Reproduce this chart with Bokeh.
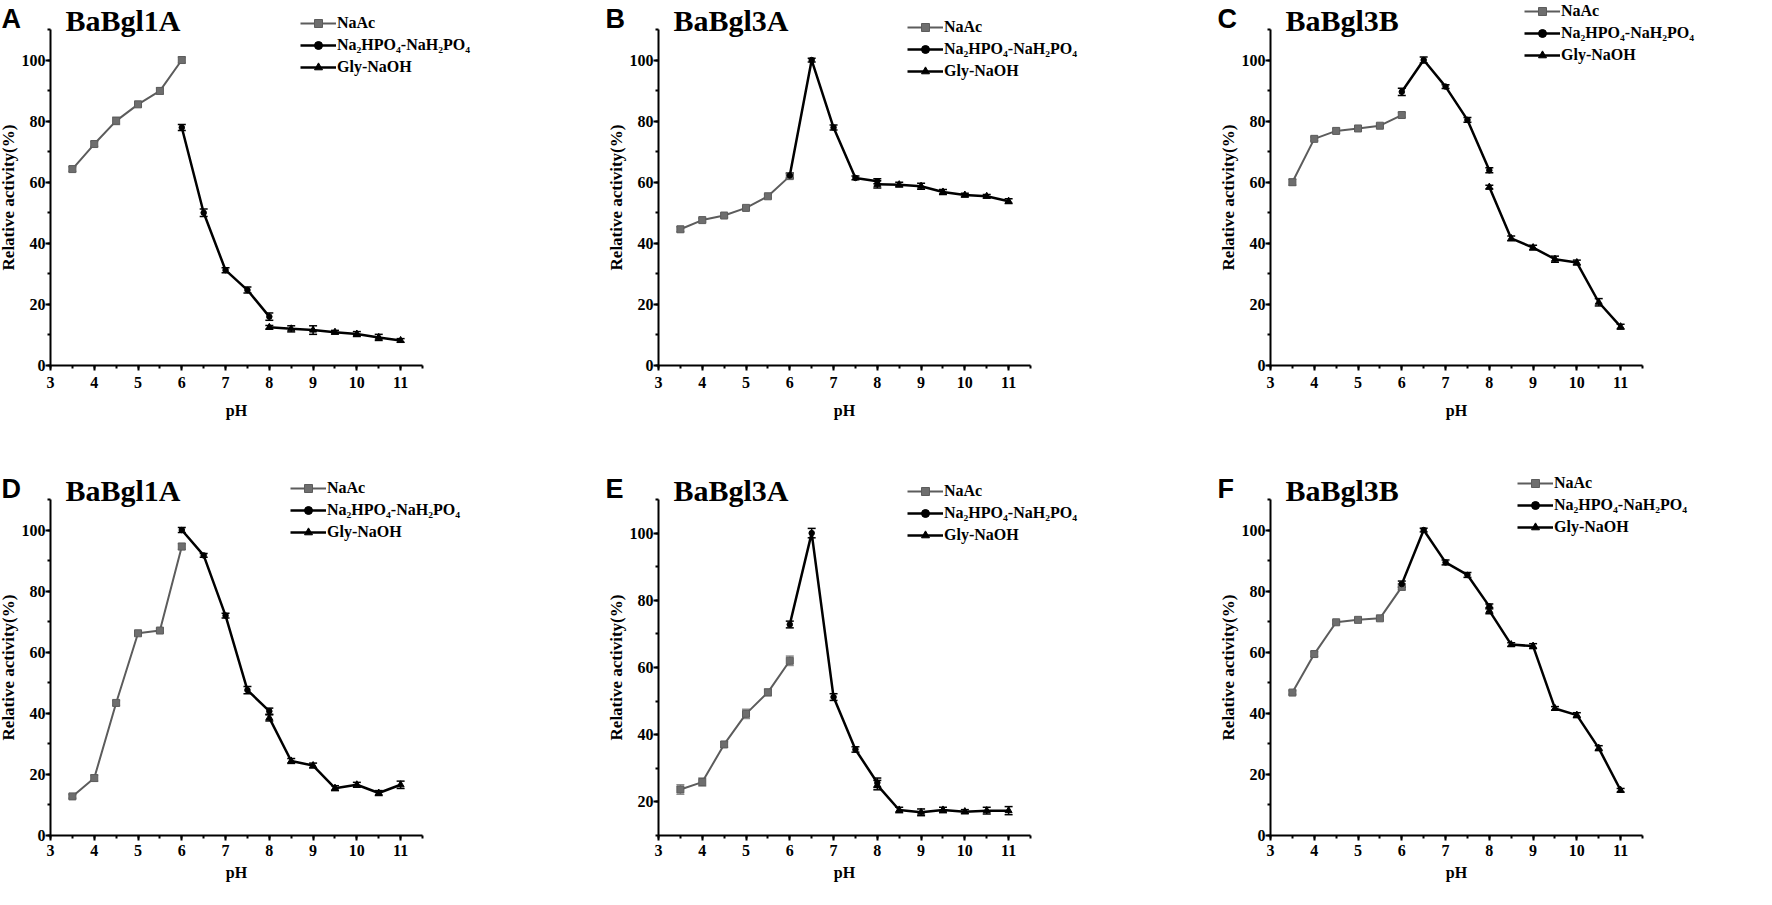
from bokeh.plotting import figure
from bokeh.layouts import row, column
from bokeh.models import (ColumnDataSource, Label, Legend, LegendItem, Range1d,
                          SingleIntervalTicker, TeeHead, Whisker)
from bokeh.embed import file_html
from bokeh.resources import INLINE

# pH values used with each buffer
ph_naac = [3.5, 4, 4.5, 5, 5.5, 6]
ph_phos = [6, 6.5, 7, 7.5, 8]
ph_gly = [8, 8.5, 9, 9.5, 10, 10.5, 11]

buffers = ["NaAc", "Na\u2082HPO\u2084-NaH\u2082PO\u2084", "Gly-NaOH"]
letters = ["A", "B", "C", "D", "E", "F"]
titles = ["BaBgl1A", "BaBgl3A", "BaBgl3B", "BaBgl1A", "BaBgl3A", "BaBgl3B"]

# relative activity (%) per panel: NaAc, phosphate, glycine
a_naac = [64.3, 72.5, 80.1, 85.5, 89.9, 100.0]
a_phos = [77.9, 50.0, 31.2, 24.7, 16.0]
a_gly = [12.5, 12.0, 11.6, 10.9, 10.3, 9.2, 8.2]
b_naac = [44.6, 47.6, 49.1, 51.6, 55.4, 62.0]
b_phos = [62.2, 100.0, 77.9, 61.4, 60.3]
b_gly = [59.3, 59.2, 58.7, 56.8, 55.8, 55.4, 53.8]
c_naac = [60.0, 74.2, 76.8, 77.6, 78.5, 82.0]
c_phos = [89.6, 100.0, 91.3, 80.4, 63.9]
c_gly = [58.4, 41.6, 38.6, 34.8, 33.7, 20.7, 12.7]
d_naac = [12.8, 18.8, 43.4, 66.2, 67.1, 94.6]
d_phos = [100.0, 91.7, 72.0, 47.6, 40.7]
d_gly = [38.5, 24.4, 22.9, 15.5, 16.6, 13.9, 16.6]
e_naac = [23.7, 25.9, 37.1, 46.2, 52.6, 62.0]
e_phos = [72.8, 100.0, 51.2, 35.6, 25.7]
e_gly = [25.0, 17.6, 16.9, 17.6, 17.1, 17.4, 17.4]
f_naac = [46.8, 59.4, 69.8, 70.6, 71.1, 81.4]
f_phos = [82.3, 100.0, 89.4, 85.3, 75.0]
f_gly = [73.6, 62.5, 62.0, 41.6, 39.4, 28.6, 14.8]

# standard deviations
a_naac_sd = [0.8, 0.8, 1.2, 0.8, 1.0, 1.0]
a_phos_sd = [1.0, 1.2, 0.8, 1.0, 1.2]
a_gly_sd = [0.6, 1.0, 1.4, 0.6, 0.8, 1.0, 0.6]
b_naac_sd = [0.8, 0.6, 0.6, 0.6, 0.6, 0.8]
b_phos_sd = [0.8, 0.6, 0.8, 0.6, 0.8]
b_gly_sd = [1.2, 0.8, 1.0, 0.8, 0.6, 0.6, 0.8]
c_naac_sd = [1.0, 0.6, 0.8, 0.6, 0.6, 0.8]
c_phos_sd = [1.2, 1.0, 0.6, 0.8, 0.8]
c_gly_sd = [0.6, 0.8, 0.8, 1.0, 0.8, 1.2, 0.8]
d_naac_sd = [0.6, 1.0, 0.8, 0.6, 0.6, 1.0]
d_phos_sd = [0.8, 0.6, 0.8, 1.2, 1.0]
d_gly_sd = [1.0, 0.8, 0.8, 0.8, 0.8, 0.8, 1.2]
e_naac_sd = [1.4, 1.2, 0.8, 1.4, 1.0, 1.4]
e_phos_sd = [1.0, 1.4, 1.0, 0.8, 1.4]
e_gly_sd = [1.4, 0.8, 1.0, 0.8, 0.6, 1.0, 1.2]
f_naac_sd = [0.6, 0.8, 0.6, 0.6, 0.6, 1.0]
f_phos_sd = [1.0, 0.6, 0.8, 0.8, 0.8]
f_gly_sd = [1.0, 0.6, 0.8, 0.6, 0.8, 0.8, 0.6]

y_min = [0, 0, 0, 0, 10, 0]

panel_data = [
    (a_naac, a_phos, a_gly, a_naac_sd, a_phos_sd, a_gly_sd),
    (b_naac, b_phos, b_gly, b_naac_sd, b_phos_sd, b_gly_sd),
    (c_naac, c_phos, c_gly, c_naac_sd, c_phos_sd, c_gly_sd),
    (d_naac, d_phos, d_gly, d_naac_sd, d_phos_sd, d_gly_sd),
    (e_naac, e_phos, e_gly, e_naac_sd, e_phos_sd, e_gly_sd),
    (f_naac, f_phos, f_gly, f_naac_sd, f_phos_sd, f_gly_sd),
]

SERIF = "Liberation Serif"

# figure geometry (px). the whole figure is the frame, axes sit at fixed
# locations so the legend and titles are not clipped.
col_w = [602, 612, 542]
col_axis = [50, 56, 56]      # x=3 from figure left
row_h = [467, 422]
row_top = [29, 32]           # y=110 from figure top
AXIS_W, AXIS_H = 372, 336
# x axis label standoffs per row (row 2 is squeezed by the page bottom)
row_standoff = [(6, 11), (4, 5)]
# legend: (px from the y axis, px of legend top from figure top)
legend_pos = [(250, 8.5), (249, 12.5), (254, -3.5), (240, 6.5), (249, 9.5), (247, 1.5)]
LEG_H = 68

styles = [
    dict(marker="square", line="#5c5c5c", fill="#6e6e6e", err="#8c8c8c", lw=2, size=7),
    dict(marker="circle", line="black", fill="black", err="black", lw=2.5, size=5.5),
    dict(marker="triangle", line="black", fill="black", err="black", lw=2.5, size=7),
]


def make_panel(i):
    c, r = i % 3, i // 3
    w, h = col_w[c], row_h[r]
    ax0, top = col_axis[c], row_top[r]
    ymin = y_min[i]
    kx = AXIS_W / (11.5 - 3)
    ky = AXIS_H / (110 - ymin)
    x0 = 3 - ax0 / kx
    y1 = 110 + top / ky
    p = figure(width=w, height=h,
               x_range=Range1d(x0, x0 + w / kx),
               y_range=Range1d(y1 - h / ky, y1),
               toolbar_location=None, output_backend="svg", tools="",
               min_border=0)
    p.outline_line_color = None
    p.xgrid.visible = False
    p.ygrid.visible = False

    p.xaxis.fixed_location = ymin
    p.yaxis.fixed_location = 3
    p.xaxis.bounds = (3, 11.5)
    p.yaxis.bounds = (ymin, 110)
    p.xaxis.ticker = SingleIntervalTicker(interval=1, num_minor_ticks=2)
    p.yaxis.ticker = SingleIntervalTicker(interval=20, num_minor_ticks=2)
    p.xaxis.axis_label = "pH"
    p.yaxis.axis_label = "Relative activity(%)"
    for ax in (p.xaxis, p.yaxis):
        ax.axis_line_width = 2
        ax.major_tick_line_width = 2
        ax.minor_tick_line_width = 2
        ax.major_tick_in = 0
        ax.major_tick_out = 5
        ax.minor_tick_in = 0
        ax.minor_tick_out = 3
        ax.major_label_text_font = SERIF
        ax.major_label_text_font_style = "bold"
        ax.major_label_text_font_size = "16px"
        ax.major_label_text_color = "black"
        ax.axis_label_text_font = SERIF
        ax.axis_label_text_font_style = "bold"
        ax.axis_label_text_font_size = "16px"
        ax.axis_label_text_color = "black"
    p.xaxis.major_label_standoff = row_standoff[r][0]
    p.xaxis.axis_label_standoff = row_standoff[r][1]
    p.yaxis.axis_label_text_font_size = "17px"
    p.yaxis.major_label_standoff = 0
    p.yaxis.axis_label_standoff = 1

    ys = panel_data[i][:3]
    sds = panel_data[i][3:]
    xs = [ph_naac, ph_phos, ph_gly]
    items = []
    for x, y, sd, st, name in zip(xs, ys, sds, styles, buffers):
        src = ColumnDataSource(dict(x=x, y=y,
                                    lo=[a - b for a, b in zip(y, sd)],
                                    hi=[a + b for a, b in zip(y, sd)]))
        p.add_layout(Whisker(source=src, base="x", lower="lo", upper="hi",
                             line_color=st["err"], line_width=1.5,
                             upper_head=TeeHead(size=8, line_color=st["err"], line_width=1.5),
                             lower_head=TeeHead(size=8, line_color=st["err"], line_width=1.5)))
        lr = p.line("x", "y", source=src, line_color=st["line"], line_width=st["lw"])
        sr = p.scatter("x", "y", source=src, marker=st["marker"], size=st["size"],
                       fill_color=st["fill"], line_color=st["line"])
        items.append(LegendItem(label=name, renderers=[lr, sr]))

    lx, ltop = legend_pos[i]
    legend = Legend(items=items, location=(ax0 + lx, h - ltop - LEG_H),
                    glyph_width=36, glyph_height=20, label_height=20,
                    label_standoff=1, spacing=2, padding=0, margin=0,
                    border_line_color=None, background_fill_alpha=0,
                    label_text_font=SERIF, label_text_font_style="bold",
                    label_text_font_size="16px", label_text_color="black")
    p.add_layout(legend, "center")

    p.add_layout(Label(x=max(ax0 - 53, 1), y=h - (top - 11), x_units="screen", y_units="screen",
                       text=letters[i], text_font="Liberation Sans",
                       text_font_style="bold", text_font_size="27px",
                       text_color="black", text_baseline="alphabetic"))
    p.add_layout(Label(x=ax0 + 15, y=h - (top - 9), x_units="screen", y_units="screen",
                       text=titles[i], text_font=SERIF,
                       text_font_style="bold", text_font_size="30px",
                       text_color="black", text_baseline="alphabetic"))
    return p


panels = [make_panel(i) for i in range(6)]
layout = column(row(*panels[:3]), row(*panels[3:]))

open("out.html", "w").write(file_html(layout, INLINE))
